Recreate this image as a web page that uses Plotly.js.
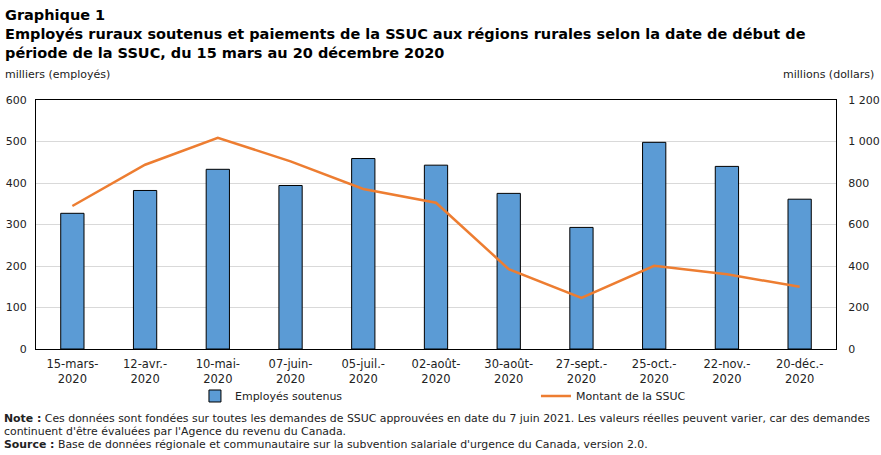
<!DOCTYPE html>
<html>
<head>
<meta charset="utf-8">
<script src="https://cdn.plot.ly/plotly-3.0.1.min.js"></script>
<style>html,body{margin:0;padding:0;background:#fff;}#chart{width:881px;height:455px;}</style>
</head>
<body>
<div id="chart"></div>
<script>
const categories = ["15-mars-<br>2020","12-avr.-<br>2020","10-mai-<br>2020","07-juin-<br>2020","05-juil.-<br>2020","02-août-<br>2020","30-août-<br>2020","27-sept.-<br>2020","25-oct.-<br>2020","22-nov.-<br>2020","20-déc.-<br>2020"];
const employes = [327, 382, 433, 394, 459, 443, 375, 293, 498, 440, 361];
const montant = [689, 888, 1018, 904, 771, 705, 385, 246, 401, 360, 300];
const noteLines = [
  "<b>Note :</b> Ces données sont fondées sur toutes les demandes de SSUC approuvées en date du 7 juin 2021. Les valeurs réelles peuvent varier, car des demandes",
  "continuent d'être évaluées par l'Agence du revenu du Canada.",
  "<b>Source :</b> Base de données régionale et communautaire sur la subvention salariale d'urgence du Canada, version 2.0."
];

const FONT = "DejaVu Sans, Verdana, sans-serif";

const traces = [
  {
    type: "bar", name: "Employés soutenus", x: categories, y: employes,
    marker: {color: "#5b9bd5", line: {color: "#000", width: 1}},
    width: 0.32, yaxis: "y"
  },
  {
    type: "scatter", mode: "lines", name: "Montant de la SSUC", x: categories, y: montant,
    line: {color: "#ed7d31", width: 2.5}, yaxis: "y2"
  }
];

const noteY = [-0.281, -0.332, -0.382];
const annotations = [
  {text: "milliers (employés)", xref: "paper", yref: "paper", x: -0.041, y: 1.104, xanchor: "left", yanchor: "middle", showarrow: false, font: {family: FONT, size: 11, color: "#222"}},
  {text: "millions (dollars)", xref: "paper", yref: "paper", x: 1.05, y: 1.104, xanchor: "right", yanchor: "middle", showarrow: false, font: {family: FONT, size: 11, color: "#222"}}
];
noteLines.forEach(function (t, i) {
  annotations.push({text: t, xref: "paper", yref: "paper", x: -0.043, y: noteY[i], xanchor: "left", yanchor: "middle", align: "left", showarrow: false,
    font: {family: FONT, size: 10.9, color: "#222"}});
});

const layout = {
  width: 881, height: 455,
  margin: {l: 36, r: 45, t: 100, b: 106, autoexpand: false},
  paper_bgcolor: "#fff", plot_bgcolor: "#fff",
  font: {family: FONT, size: 11, color: "#222"},
  separators: ", ",
  title: {
    text: "<b>Graphique 1</b><br><b>Employés ruraux soutenus et paiements de la SSUC aux régions rurales selon la date de début de</b><br><b>période de la SSUC, du 15 mars au 20 décembre 2020</b>",
    x: 0, xref: "container", xanchor: "left", y: 0.956, yref: "container", yanchor: "middle",
    pad: {l: 5},
    font: {family: FONT, size: 14.5, color: "#000"}
  },
  xaxis: {
    type: "category", showline: true, linecolor: "#000", linewidth: 1, mirror: true,
    ticks: "", ticklabelstandoff: 4, tickfont: {family: FONT, size: 11.5, color: "#222"}, fixedrange: true
  },
  yaxis: {
    range: [0, 600], tickvals: [0,100,200,300,400,500,600],
    showgrid: true, gridcolor: "#d9d9d9", showline: true, linecolor: "#000", linewidth: 1,
    ticks: "", ticklabelstandoff: 6, zeroline: false,
    tickfont: {family: FONT, size: 11, color: "#222"}
  },
  yaxis2: {
    overlaying: "y", side: "right", range: [0, 1200], tickvals: [0,200,400,600,800,1000,1200],
    separatethousands: true, showgrid: false, showline: true, linecolor: "#000", linewidth: 1,
    ticks: "", ticklabelstandoff: 9, zeroline: false,
    tickfont: {family: FONT, size: 11, color: "#222"}
  },
  showlegend: true,
  legend: {
    orientation: "h", xref: "container", x: 0.2213, xanchor: "left", yref: "container", y: 0.1297, yanchor: "middle",
    entrywidth: 296, entrywidthmode: "pixels", bgcolor: "rgba(0,0,0,0)",
    font: {family: FONT, size: 11, color: "#222"}, traceorder: "normal"
  },
  annotations: annotations
};

Plotly.newPlot("chart", traces, layout, {displayModeBar: false, staticPlot: true});
</script>
</body>
</html>
